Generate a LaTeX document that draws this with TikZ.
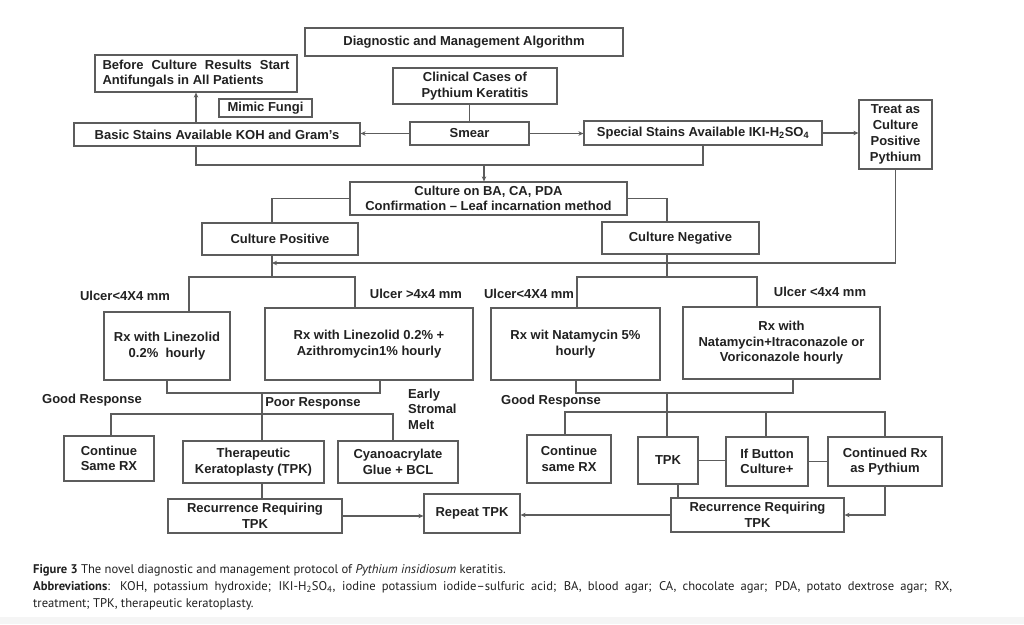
\documentclass[tikz,border=0pt]{standalone}
\usepackage{fontspec}
\setmainfont{Liberation Sans}
\newfontfamily\capfont[Ligatures=TeX]{PT Sans}
\usetikzlibrary{arrows.meta}
\definecolor{linec}{gray}{0.36}
\definecolor{txtc}{gray}{0.13}
\newcommand\mybox[6]{\node[box, minimum width={#4pt-#2pt}, minimum height={#5pt-#3pt}] (#1) at ({(#2+#4)/2},{(#3+#5)/2}) {#6};}
\begin{document}
\begin{tikzpicture}[x=1pt,y=-1pt,
  box/.style={draw=linec, line width=1.2pt, inner sep=0pt, align=center, text=txtc,
    font=\bfseries\fontsize{13}{15.5}\selectfont},
  lbl/.style={inner sep=0pt, text=txtc, font=\bfseries\fontsize{13}{15.5}\selectfont},
  ln/.style={draw=linec, line width=1.2pt},
  arr/.style={ln, -{Stealth[length=5pt,width=4.5pt]}},
  captext/.style={inner sep=0pt, anchor=base west, text=txtc, font=\capfont\fontsize{12.6}{15}\selectfont}]
\useasboundingbox (0,0) rectangle (1024,624);
\fill[white] (0,0) rectangle (1024,624);
\fill[black!4] (0,617) rectangle (1024,624);

% boxes
\mybox{title}{305}{28}{623}{56}{Diagnostic and Management Algorithm}
\node[box, align=left, minimum width=202pt, minimum height=37pt] (before) at (196,73.5)
  {\makebox[187pt][s]{Before Culture Results Start}\\Antifungals in All Patients};
\mybox{mimic}{219}{99}{312}{117}{Mimic Fungi}
\mybox{clinical}{393}{68}{557}{104}{Clinical Cases of\\Pythium Keratitis}
\mybox{basic}{74}{123}{360}{146}{Basic Stains Available KOH and Gram's}
\mybox{smear}{410}{122}{529}{145}{Smear}
\mybox{special}{584}{121}{822}{145}{Special Stains Available IKI-H\textsubscript{2}SO\textsubscript{4}}
\node[box, minimum width=73pt, minimum height=69pt, font=\bfseries\fontsize{13}{16}\selectfont] (treat) at (895.5,134.5)
  {Treat as\\Culture\\Positive\\Pythium};
\mybox{culture}{350}{182}{627}{215}{Culture on BA, CA, PDA\\Confirmation – Leaf incarnation method}
\mybox{cpos}{202}{223}{358}{255}{Culture Positive}
\mybox{cneg}{602}{222}{759}{254}{Culture Negative}
\mybox{rx1}{104}{312}{230}{380}{Rx with Linezolid\\0.2\%\ \ hourly}
\mybox{rx2}{265}{308}{473}{380}{Rx with Linezolid 0.2\% +\\Azithromycin1\% hourly}
\mybox{rx3}{491}{308}{660}{380}{Rx wit Natamycin 5\%\\hourly}
\mybox{rx4}{683}{307}{880}{379}{Rx with\\Natamycin+Itraconazole or\\Voriconazole hourly}
\mybox{cont1}{64}{436}{154}{481}{Continue\\Same RX}
\mybox{tk}{183}{441}{324}{483}{Therapeutic\\Keratoplasty (TPK)}
\mybox{cyano}{338}{441}{458}{483}{Cyanoacrylate\\Glue + BCL}
\mybox{rec1}{168}{499}{342}{533}{Recurrence Requiring\\TPK}
\mybox{repeat}{424}{494}{520}{533}{Repeat TPK}
\mybox{cont2}{527}{435}{611}{483}{Continue\\same RX}
\mybox{tpk2}{638}{437}{698}{484}{TPK}
\mybox{ifb}{726}{437}{808}{486}{If Button\\Culture+}
\mybox{contrx}{828}{437}{942}{486}{Continued Rx\\as Pythium}
\mybox{rec2}{671}{498}{844}{532}{Recurrence Requiring\\TPK}

% labels
\node[lbl] (l1) at (125,296) {Ulcer<4X4 mm};
\node[lbl] (l2) at (416,294) {Ulcer >4x4 mm};
\node[lbl] (l3) at (529,294) {Ulcer<4X4 mm};
\node[lbl] (l4) at (820,292) {Ulcer <4x4 mm};
\node[lbl] (l5) at (92,400) {Good Response};
\node[lbl] (l6) at (313,403) {Poor Response};
\node[lbl, align=left, anchor=west] (l7) at (408,409) {Early\\Stromal\\Melt};
\node[lbl] (l8) at (551,401) {Good Response};

% connectors top
\draw[ln] (smear.north) -- (smear.north |- clinical.south);
\draw[arr] (smear.west) -- (smear.west -| basic.east);
\draw[arr] (smear.east) -- (smear.east -| special.west);
\draw[arr] (special.east) -- (special.east -| treat.west);
\draw[arr] (before.south |- basic.north) -- (before.south);
\coordinate (j1) at (484,165);
\draw[ln] (before.south |- basic.south) |- (j1) -| (special.south);
\draw[arr] (j1) -- (j1 |- culture.north);
\coordinate (cpl) at (272,223);
\draw[ln] (culture.west) -| (cpl);
\coordinate (cnl) at (667,222);
\draw[ln] (culture.east) -| (cnl);
\coordinate (t1) at (272,263);
\draw[arr] (treat.south) |- (t1);
\coordinate (h1) at (272,277);
\draw[ln] (cpl |- cpos.south) -- (h1);
\coordinate (r1t) at (189,312); \coordinate (r2t) at (355,308);
\draw[ln] (r1t) |- (h1) -| (r2t);
\coordinate (h2) at (667,277);
\draw[ln] (cnl |- cneg.south) -- (h2);
\coordinate (r3t) at (577,308); \coordinate (r4t) at (757,307);
\draw[ln] (r3t) |- (h2) -| (r4t);

% connectors bottom left
\coordinate (r2b) at (380,380);
\coordinate (g1) at (262,393);
\draw[ln] (rx1.south) |- (r2b |- g1) -- (r2b);
\draw[ln] (g1) -- (g1 |- tk.north);
\coordinate (g2) at (262,414);
\coordinate (c1t) at (111,436); \coordinate (cyt) at (393,441);
\draw[ln] (c1t) |- (g2) -| (cyt);
\draw[ln] (g1 |- tk.south) -- (g1 |- rec1.north);
\draw[arr] (rec1.east) -- (rec1.east -| repeat.west);

% connectors bottom right
\coordinate (r3b) at (576,380); \coordinate (r4b) at (793,379);
\coordinate (g3) at (667,393);
\draw[ln] (r3b) |- (g3) -| (r4b);
\draw[ln] (g3) -- (g3 |- tpk2.north);
\coordinate (g4) at (667,412);
\coordinate (c2t) at (565,435); \coordinate (ift) at (766,437); \coordinate (crt) at (885,437);
\draw[ln] (c2t) |- (g4) -| (crt);
\draw[ln] (ift) -- (ift |- g4);
\draw[ln] (tpk2.east) -- (tpk2.east -| ifb.west);
\draw[ln] (ifb.east) -- (ifb.east -| contrx.west);
\coordinate (tb) at (678,484);
\draw[ln] (tb) -- (tb |- rec2.north);
\draw[arr] (contrx.south) |- (rec2.east);
\draw[arr] (rec2.west) -- (rec2.west -| repeat.east);

% caption
\node[captext] (cap1) at (33,573) {\textbf{Figure 3} The novel diagnostic and management protocol of \textit{Pythium insidiosum} keratitis.};
\node[captext] (cap2) at (33,590) {\makebox[919pt][s]{\textbf{Abbreviations}: KOH, potassium hydroxide; IKI-H\textsubscript{2}SO\textsubscript{4}, iodine potassium iodide–sulfuric acid; BA, blood agar; CA, chocolate agar; PDA, potato dextrose agar; RX,}};
\node[captext] (cap3) at (33,607) {treatment; TPK, therapeutic keratoplasty.};
\end{tikzpicture}
\end{document}
